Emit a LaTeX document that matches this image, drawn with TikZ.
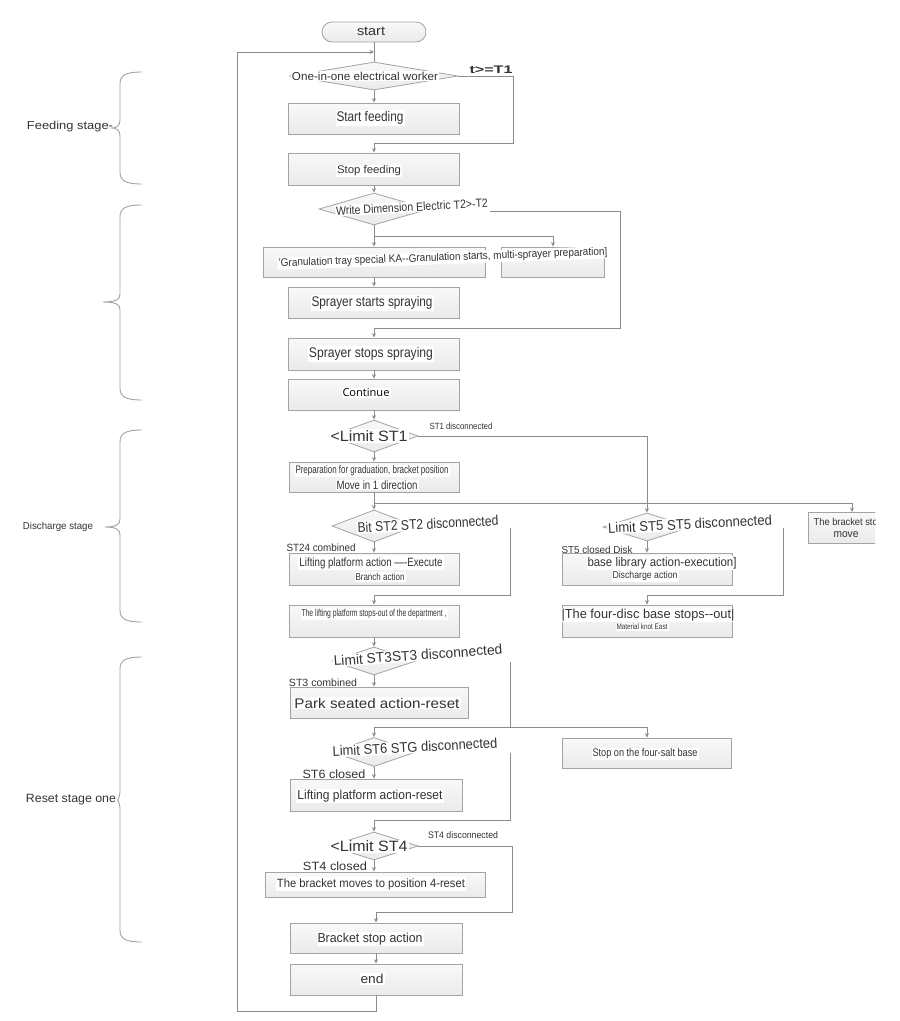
\documentclass[tikz,border=0pt]{standalone}
\usepackage{fontspec}
\usepackage{graphicx}
\setmainfont{Liberation Sans}
\newfontfamily\osans{Open Sans}
\usetikzlibrary{arrows.meta,shapes.geometric}
\definecolor{ln}{HTML}{8C8C8C}
\definecolor{bd}{HTML}{A3A3A3}
\definecolor{tx}{HTML}{333333}
\newcommand\tw[3]{\resizebox{#1pt}{\height}{\fontsize{#2}{#2}\selectfont #3}}
\tikzset{
  box/.style={draw=bd, line width=0.8pt, top color=gray!5, bottom color=gray!16, inner sep=0pt},
  dia/.style={diamond, draw=bd, line width=0.8pt, top color=gray!5, bottom color=gray!16, inner sep=0pt},
  txt/.style={text=tx, inner sep=1pt, fill=white},
  lab/.style={text=tx, inner sep=0.5pt},
  arr/.style={draw=ln, line width=0.8pt, -{Stealth[length=4.5pt,width=4pt]}},
  ln/.style={draw=ln, line width=0.8pt},
  brc/.style={draw=bd, line width=0.9pt}
}
\newcommand\stagebrace[4]{%
  \draw[brc] (142,#1) .. controls (126,#1) and (120,#1+3) .. (120,#1+12) -- (120,#3-8)
    .. controls (120,#3-3) and (117,#3) .. (#4,#3)
    .. controls (117,#3) and (120,#3+3) .. (120,#3+8) -- (120,#2-12)
    .. controls (120,#2-3) and (126,#2) .. (142,#2);}
\begin{document}
\begin{tikzpicture}[x=1pt,y=-1pt]
\useasboundingbox (0,0) rectangle (900,1021);
\fill[white] (0,0) rectangle (900,1021);

% ---------- braces and stage labels ----------
\stagebrace{72}{184}{128}{112}
\stagebrace{205}{400}{302}{103}
\stagebrace{430}{622}{527}{105}
\stagebrace{657}{942}{800}{118}
\node[lab] (lfeed) at (70,127) {\tw{86}{11.5}{Feeding stage-}};
\node[lab] (ldis) at (58,527) {\tw{70}{10}{Discharge stage}};
\node[lab] (lres) at (71,800) {\tw{90}{12}{Reset stage one}};

% ---------- shapes ----------
\node[box, rounded corners=10pt, minimum width=104, minimum height=20] (start) at (374,32) {};
\node[dia, minimum width=168, minimum height=28] (d1) at (374,76) {};
\node[box, minimum width=171, minimum height=31] (sf) at (374,118.5) {};
\node[box, minimum width=171, minimum height=32] (stf) at (374,169) {};
\node[dia, minimum width=110, minimum height=32] (d2) at (374,209) {};
\node[box, minimum width=222, minimum height=30] (g1) at (374,262) {};
\node[box, minimum width=103, minimum height=30] (g2) at (553,262) {};
\node[box, minimum width=171, minimum height=31] (ss) at (374,302.5) {};
\node[box, minimum width=171, minimum height=32] (sp) at (374,354) {};
\node[box, minimum width=171, minimum height=31] (co) at (374,394.5) {};
\node[dia, minimum width=88, minimum height=32] (d3) at (374,436) {};
\node[box, minimum width=170, minimum height=30] (pr) at (374,477) {};
\node[dia, minimum width=84, minimum height=32] (d4) at (374,526) {};
\node[box, minimum width=170, minimum height=32] (lp) at (374,569) {};
\node[box, minimum width=170, minimum height=32] (ls) at (374,621) {};
\node[dia, minimum width=88, minimum height=28] (d5) at (647,527) {};
\node[box, minimum width=170, minimum height=32] (bl) at (647,569) {};
\node[box, minimum width=170, minimum height=32] (fd) at (647,621) {};
\begin{scope}
  \clip (0,0) rectangle (875,1021);
  \node[box, minimum width=76, minimum height=31] (bk) at (846,527.5) {};
  \node[lab] (tbk1) at (813,522) [anchor=west] {\tw{64}{10}{The bracket sto}};
\end{scope}
\node[dia, minimum width=84, minimum height=28] (d6) at (374,661) {};
\node[box, minimum width=178, minimum height=31] (ps) at (379,702.5) {};
\node[box, minimum width=169, minimum height=30] (sb) at (647,753) {};
\node[dia, minimum width=84, minimum height=29] (d7) at (374,752) {};
\node[box, minimum width=172, minimum height=32] (lr) at (376,795) {};
\node[dia, minimum width=88, minimum height=28] (d8) at (374,846) {};
\node[box, minimum width=220, minimum height=25] (bm) at (375,884.5) {};
\node[box, minimum width=172, minimum height=30] (ba) at (376,938) {};
\node[box, minimum width=172, minimum height=31] (en) at (376,979.5) {};

% ---------- connectors ----------
\draw[ln] (start.south) -- (d1.north);
\draw[arr] (en.south) -- (376,1011) -- (237,1011) -- (237,52) -- (374,52);
\draw[arr] (d1.south) -- (sf.north);
\draw[arr] (d1.east) -- (513,76) -- (513,143) -| (stf.north);
\draw[arr] (stf.south) -- (d2.north);
\draw[ln] (d2.south) -- (374,236);
\draw[arr] (374,236) -- (g1.north);
\draw[arr] (374,236) -| (g2.north);
\draw[arr] (490,211) -- (620,211) -- (620,328) -| (sp.north);
\draw[arr] (g1.south) -- (ss.north);
\draw[arr] (sp.south) -- (co.north);
\draw[arr] (co.south) -- (d3.north);
\draw[arr] (d3.east) -| (d5.north);
\draw[arr] (d3.south) -- (pr.north);
\draw[ln] (pr.south) -- (374,503);
\draw[arr] (374,503) -- (d4.north);
\draw[ln] (374,503) -- (852,503);
\draw[arr] (852,503) -- (852,512);
\draw[arr] (d4.south) -- (lp.north);
\draw[arr] (510,528) -- (510,595) -| (ls.north);
\draw[arr] (d5.south) -- (bl.north);
\draw[arr] (783,528) -- (783,595) -| (fd.north);
\draw[arr] (ls.south) -- (d6.north);
\draw[arr] (d6.south) -- (ps.north -| d6.south);
\draw[ln] (510,662) -- (510,727);
\draw[arr] (510,727) -| (d7.north);
\draw[arr] (510,727) -| (sb.north);
\draw[arr] (d7.south) -- (lr.north -| d7.south);
\draw[arr] (510,753) -- (510,820) -| (d8.north);
\draw[arr] (d8.south) -- (bm.north -| d8.south);
\draw[arr] (d8.east) -- (512,846) -- (512,912) -| (ba.north);
\draw[arr] (ba.south) -- (en.north);

% ---------- texts ----------
\node[lab] (tstart) at (371,31) {\tw{28}{13}{start}};
\node[txt] (td1) at (365,76) {\tw{146}{11.5}{One-in-one electrical worker}};
\node[lab] (tT1) at (491,70) {\tw{43}{11}{\bfseries t>=T1}};
\node[txt] (tsf) at (370,118) {\tw{67}{14}{Start feeding}};
\node[txt] (tstf) at (369,171) {\tw{64}{11}{Stop feeding}};
\node[txt, rotate=3] (td2) at (412,207) {\tw{152}{12}{Write Dimension Electric T2>-T2}};
\node[txt, rotate=2] (tg) at (443,258) {\tw{329}{11}{'Granulation tray special KA-{}-Granulation starts, multi-sprayer preparation]}};
\node[txt] (tss) at (372,303) {\tw{121}{14}{Sprayer starts spraying}};
\node[txt] (tsp) at (371,354) {\tw{124}{14}{Sprayer stops spraying}};
\node[txt, text=black] (tco) at (366,393) {\tw{47}{11}{\osans Continue}};
\node[txt] (td3) at (369,436) {\tw{77}{15}{<Limit ST1}};
\node[lab] (tst1) at (461,426) {\tw{63}{9}{ST1 disconnected}};
\node[txt] (tpr1) at (372,471) {\tw{153}{11}{Preparation for graduation, bracket position}};
\node[txt] (tpr2) at (377,485) {\tw{81}{12}{Move in 1 direction}};
\node[txt, rotate=3] (td4) at (428,524) {\tw{141}{14}{Bit ST2 ST2 disconnected}};
\node[lab] (tst24) at (321,548) {\tw{69}{10.5}{ST24 combined}};
\node[txt] (tlp1) at (371,563) {\tw{143}{12}{Lifting platform action —-Execute}};
\node[txt] (tlp2) at (380,577) {\tw{49}{10}{Branch action}};
\node[txt] (tls) at (374,614) {\tw{145}{10}{The lifting platform stops-out of the department ,}};
\node[txt, rotate=3] (td5) at (690,524) {\tw{164}{14}{Limit ST5 ST5 disconnected}};
\node[lab] (tbk2) at (846,535) {\tw{25}{11}{move}};
\node[lab] (tst5) at (597,550) {\tw{71}{10}{ST5 closed Disk}};
\node[txt] (tbl1) at (662,563) {\tw{149}{12.5}{base library action-execution]}};
\node[txt] (tbl2) at (645,576) {\tw{65}{10}{Discharge action}};
\node[txt] (tfd1) at (648,615) {\tw{173}{13}{|The four-disc base stops-{}-out|}};
\node[txt] (tfd2) at (642,627) {\tw{51}{8}{Material knot East}};
\node[txt, rotate=4] (td6) at (418,655) {\tw{169}{14}{Limit ST3ST3 disconnected}};
\node[lab] (tst3) at (323,683) {\tw{68}{10.5}{ST3 combined}};
\node[txt] (tps) at (377,703) {\tw{165}{14}{Park seated action-reset}};
\node[txt] (tsb) at (645,754) {\tw{105}{11}{Stop on the four-salt base}};
\node[txt, rotate=3] (td7) at (415,747) {\tw{165}{14}{Limit ST6 STG disconnected}};
\node[lab] (tst6) at (334,774) {\tw{63}{12}{ST6 closed}};
\node[txt] (tlr) at (370,796) {\tw{145}{13}{Lifting platform action-reset}};
\node[txt] (td8) at (369,846) {\tw{77}{15}{<Limit ST4}};
\node[lab] (tst4d) at (463,835) {\tw{70}{9.5}{ST4 disconnected}};
\node[lab] (tst4c) at (335,866) {\tw{64}{12}{ST4 closed}};
\node[txt] (tbm) at (371,884) {\tw{188}{12}{The bracket moves to position 4-reset}};
\node[txt] (tba) at (370,939) {\tw{105}{13}{Bracket stop action}};
\node[txt] (ten) at (372,979) {\tw{23}{13}{end}};
\end{tikzpicture}
\end{document}
